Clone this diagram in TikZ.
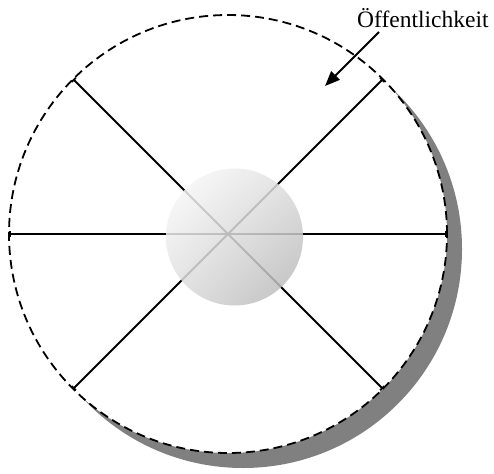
\documentclass[tikz,border=0pt]{standalone}
\usepackage{fontspec}
\setmainfont{Liberation Serif}
\usetikzlibrary{arrows.meta,shadings}
\tikzset{
  spoke/.style={line width=1.8pt, -{Bar[width=6pt,line width=1.8pt]}},
  pubcircle/.style={circle, minimum size=438pt, inner sep=0pt, outer sep=0pt},
  shadowfill/.style={fill=black!50},
  labelarrow/.style={line width=1.8pt, -{Triangle[length=15pt,width=12pt]}}
}
\begin{document}
\begin{tikzpicture}[x=1pt,y=-1pt]
\useasboundingbox (0,0) rectangle (494,473);
% shadow
\fill[shadowfill] (243,249) circle (219);
\node[pubcircle, fill=white] (pub) at (228,234) {};
\coordinate (c) at (228,234);
% spokes
\foreach \a in {0,45,135,180,225,315}{
  \draw[spoke] (c) -- (pub.\a);
}
% sphere
\shade[upper left=white, lower right=black!30, upper right=black!13, lower left=black!13, fill opacity=0.85]
  (234.5,237) circle (68.5);
\node[pubcircle, draw, line width=1.8pt, dash pattern=on 9pt off 5pt] at (228,234) {};
% label
\node[anchor=base west, inner sep=0pt, font=\fontsize{23.5}{26}\selectfont] (lab) at (357,28) {Öffentlichkeit};
\coordinate (start) at (379,32);
\coordinate (tip) at (325,86);
\draw[labelarrow] (start) -- (tip);
\end{tikzpicture}
\end{document}
